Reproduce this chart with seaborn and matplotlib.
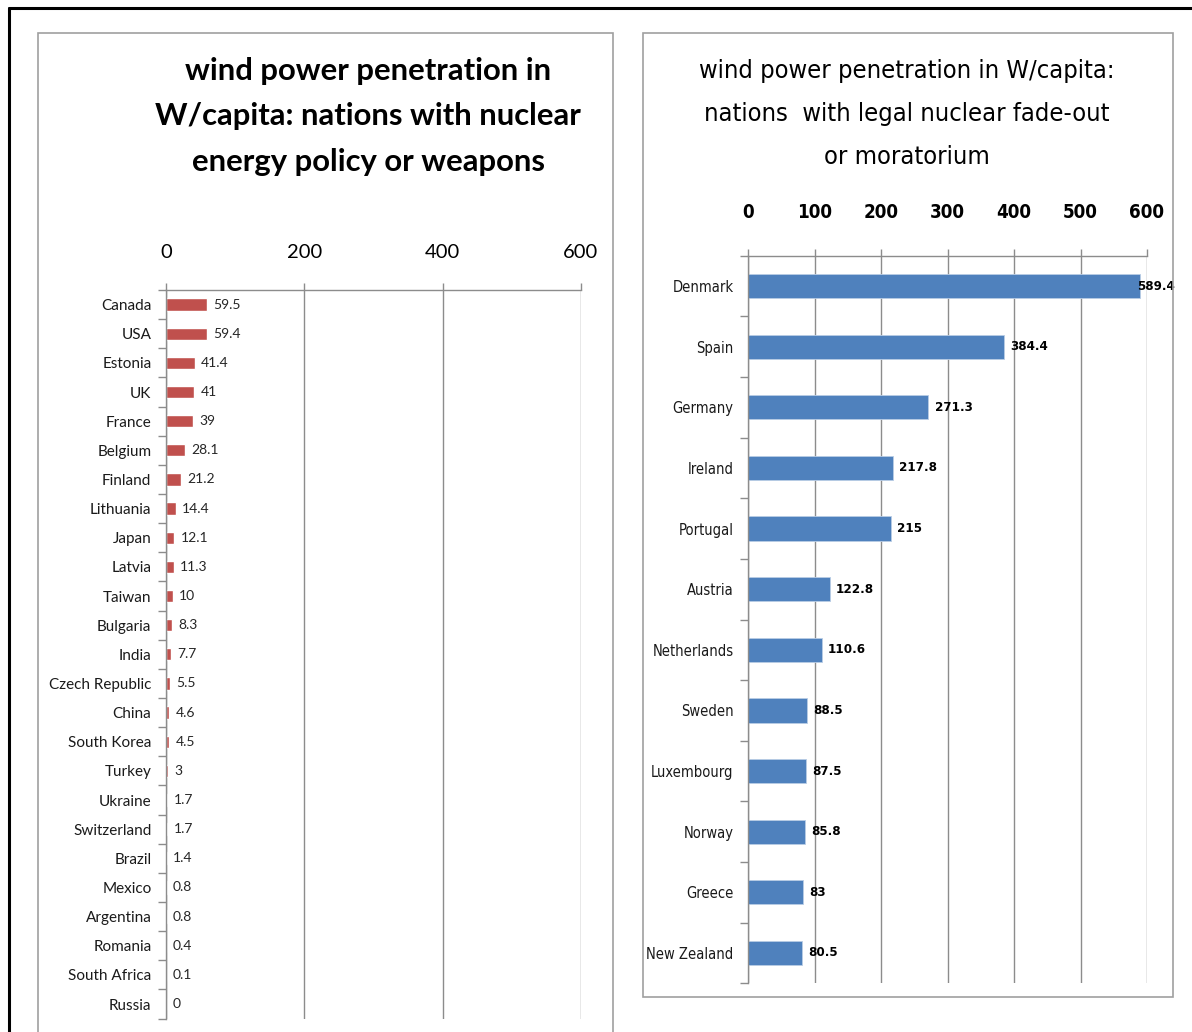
import numpy as np
import pandas as pd
import matplotlib
matplotlib.use("Agg")
import matplotlib.pyplot as plt
import seaborn as sns
from matplotlib.patches import Rectangle
from matplotlib.lines import Line2D
from matplotlib import font_manager as fm

# ---- data ----
left_countries = ["Canada", "USA", "Estonia", "UK", "France", "Belgium", "Finland",
                  "Lithuania", "Japan", "Latvia", "Taiwan", "Bulgaria", "India",
                  "Czech Republic", "China", "South Korea", "Turkey", "Ukraine",
                  "Switzerland", "Brazil", "Mexico", "Argentina", "Romania",
                  "South Africa", "Russia"]
left_values = [59.5, 59.4, 41.4, 41, 39, 28.1, 21.2, 14.4, 12.1, 11.3, 10, 8.3, 7.7,
               5.5, 4.6, 4.5, 3, 1.7, 1.7, 1.4, 0.8, 0.8, 0.4, 0.1, 0]
left_ticks = [0, 200, 400, 600]
left_title = "wind power penetration in\nW/capita: nations with nuclear\nenergy policy or weapons"

right_countries = ["Denmark", "Spain", "Germany", "Ireland", "Portugal", "Austria",
                   "Netherlands", "Sweden", "Luxembourg", "Norway", "Greece", "New Zealand"]
right_values = [589.4, 384.4, 271.3, 217.8, 215, 122.8, 110.6, 88.5, 87.5, 85.8, 83, 80.5]
right_ticks = [0, 100, 200, 300, 400, 500, 600]
right_title = "wind power penetration in W/capita:\nnations  with legal nuclear fade-out\nor moratorium"

# ---- style ----
sns.set_theme(style="white")
LEFT_FONT = ["Lato", "DejaVu Sans"]
plt.rcParams["font.family"] = LEFT_FONT


# pick a condensed face for the right panel if one exists
def narrow_props(**kw):
    for fam in ["Liberation Sans Narrow", "DejaVu Sans"]:
        fp = fm.FontProperties(family=fam, stretch="condensed", **kw)
        try:
            path = fm.findfont(fp, fallback_to_default=False)
        except Exception:
            continue
        low = path.lower()
        if "narrow" in low or "condensed" in low:
            return fm.FontProperties(fname=path)
    return None


NARROW = narrow_props(weight="normal")
NARROW_B = narrow_props(weight="bold")
CONDENSED = NARROW is not None
if NARROW is None:
    NARROW = fm.FontProperties(family=["Lato", "DejaVu Sans"])
if NARROW_B is None:
    NARROW_B = fm.FontProperties(family=["Lato", "DejaVu Sans"], weight="bold")

W, H = 1192, 1032
fig = plt.figure(figsize=(W / 100, H / 100), dpi=100)
fig.patch.set_facecolor("white")


def fx(px):
    return px / W


def fy(py):
    return 1 - py / H


GRID = "#8c8c8c"
BORDER = "#a0a0a0"

# outer frame
fig.add_artist(Line2D([fx(9), fx(9)], [fy(8), 0], color="black", lw=2.2))
fig.add_artist(Line2D([fx(9), 1], [fy(8), fy(8)], color="black", lw=2.2))

# panel borders
fig.add_artist(Rectangle((fx(38), fy(1045)), fx(613 - 38), (1045 - 33) / H,
                         fill=False, ec=BORDER, lw=1.2))
fig.add_artist(Rectangle((fx(643), fy(997)), fx(1173 - 643), (997 - 33) / H,
                         fill=False, ec=BORDER, lw=1.2))

# ---- left chart ----
axL = fig.add_axes([fx(166), fy(1018.6), fx(581 - 166), (1018.6 - 290) / H])
dfL = pd.DataFrame({"country": left_countries, "value": left_values})
sns.barplot(data=dfL, x="value", y="country", orient="h", color="#C0504D",
            saturation=1, width=0.42, ax=axL)
axL.set_xlim(0, 600)
axL.set_xticks(left_ticks)
axL.xaxis.tick_top()
axL.grid(axis="x", color=GRID, lw=1)
axL.set_axisbelow(True)
for s in ["right", "bottom"]:
    axL.spines[s].set_visible(False)
for s in ["top", "left"]:
    axL.spines[s].set_color(GRID)
    axL.spines[s].set_linewidth(1)
axL.set_yticks(np.arange(-0.5, len(left_countries), 1), minor=True)
axL.tick_params(axis="y", which="minor", length=6, color=GRID, width=1, left=True)
axL.tick_params(axis="y", which="major", length=0, pad=10.5, labelsize=11,
                labelcolor="#1a1a1a")
axL.tick_params(axis="x", which="major", length=5, color=GRID, width=1, top=True,
                pad=16, labelsize=14.5, labelcolor="black")
axL.set_xlabel("")
axL.set_ylabel("")
axL.bar_label(axL.containers[0], labels=[f"{v:g}" for v in left_values],
              padding=4.5, fontsize=10, color="#262626")

fig.text(fx(368), fy(116.5), left_title, ha="center", va="center",
         multialignment="center", fontsize=22.3, fontweight="bold",
         linespacing=1.78, color="black")

# ---- right chart ----
axR = fig.add_axes([fx(748), fy(983.3), fx(1147 - 748), (983.3 - 255.7) / H])
dfR = pd.DataFrame({"country": right_countries, "value": right_values})
sns.barplot(data=dfR, x="value", y="country", orient="h", color="#4F81BD",
            saturation=1, width=0.4, ax=axR, edgecolor="#b9cde5", linewidth=0.6)
axR.set_xlim(0, 600)
axR.set_xticks(right_ticks)
axR.xaxis.tick_top()
axR.grid(axis="x", color=GRID, lw=1)
axR.set_axisbelow(True)
for s in ["right", "bottom"]:
    axR.spines[s].set_visible(False)
for s in ["top", "left"]:
    axR.spines[s].set_color(GRID)
    axR.spines[s].set_linewidth(1)
axR.set_yticks(np.arange(-0.5, len(right_countries), 1), minor=True)
axR.tick_params(axis="y", which="minor", length=6, color=GRID, width=1, left=True)
axR.tick_params(axis="y", which="major", length=0, pad=10.5, labelcolor="#1a1a1a")
axR.tick_params(axis="x", which="major", length=5, color=GRID, width=1, top=True,
                pad=19.5, labelcolor="black")

tick_size = 13.5 if CONDENSED else 12
cat_size = 10.5 if CONDENSED else 9.5
val_size = 9.5 if CONDENSED else 8.5
title_size = 18.3 if CONDENSED else 16
title_ls = 2.02 if CONDENSED else 2.2

for lab in axR.get_xticklabels():
    lab.set_fontproperties(NARROW_B)
    lab.set_fontsize(tick_size)
for lab in axR.get_yticklabels():
    lab.set_fontproperties(NARROW)
    lab.set_fontsize(cat_size)
axR.set_xlabel("")
axR.set_ylabel("")
annsR = axR.bar_label(axR.containers[0], labels=[f"{v:g}" for v in right_values],
                      padding=4.5, color="black")
for a in annsR:
    a.set_fontproperties(NARROW_B)
    a.set_fontsize(val_size)
annsR[0].xyann = (-2, 0)

fig.text(fx(907), fy(114), right_title, ha="center", va="center",
         multialignment="center", fontproperties=NARROW, fontsize=title_size,
         linespacing=title_ls, color="black")

fig.savefig("out.png", dpi=100, facecolor="white")
